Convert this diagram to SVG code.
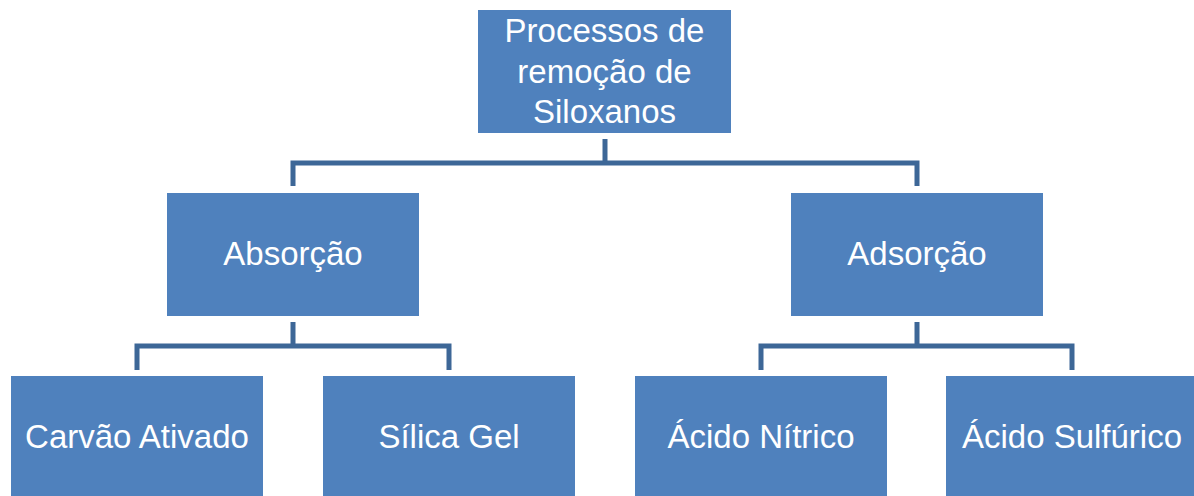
<svg xmlns="http://www.w3.org/2000/svg" width="1194" height="496" viewBox="0 0 1194 496">
<style>
.box{fill:#4F81BD;}
.t{font-family:"Liberation Sans",Arial,sans-serif;font-size:33px;fill:#FFFFFF;text-anchor:middle;}
.c{fill:none;stroke:#3D6797;stroke-width:5;stroke-linejoin:miter;stroke-linecap:butt;}
</style>
<rect width="1194" height="496" fill="#FFFFFF"/>
<g id="connectors">
<path class="c" d="M605,139 V163"/>
<path class="c" d="M293,186 V163 H917 V186"/>
<path class="c" d="M293,322 V346"/>
<path class="c" d="M137,370 V346 H449 V370"/>
<path class="c" d="M917,322 V346"/>
<path class="c" d="M761,370 V346 H1072 V370"/>
</g>
<g id="root">
<rect class="box" x="478" y="10" width="253" height="123"/>
<text class="t" x="604.5" y="42">Processos de</text>
<text class="t" x="604.5" y="83">remoção de</text>
<text class="t" x="604.5" y="123">Siloxanos</text>
</g>
<g id="absorcao">
<rect class="box" x="167" y="193" width="252" height="123"/>
<text class="t" x="293" y="265">Absorção</text>
</g>
<g id="adsorcao">
<rect class="box" x="791" y="193" width="252" height="123"/>
<text class="t" x="917" y="265">Adsorção</text>
</g>
<g id="carvao">
<rect class="box" x="11" y="376" width="252" height="123"/>
<text class="t" x="137" y="448">Carvão Ativado</text>
</g>
<g id="silica">
<rect class="box" x="323" y="376" width="252" height="123"/>
<text class="t" x="449" y="448">Sílica Gel</text>
</g>
<g id="nitrico">
<rect class="box" x="635" y="376" width="252" height="123"/>
<text class="t" x="761" y="448">Ácido Nítrico</text>
</g>
<g id="sulfurico">
<rect class="box" x="946" y="376" width="252" height="123"/>
<text class="t" x="1072" y="448">Ácido Sulfúrico</text>
</g>
</svg>
